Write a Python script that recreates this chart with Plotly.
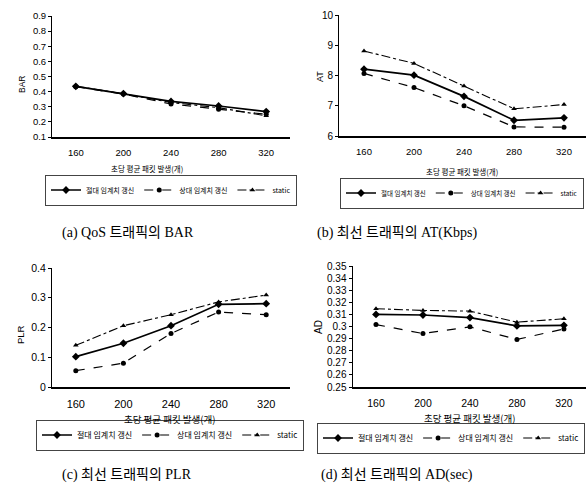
import plotly.graph_objects as go

W, H = 586, 493

x_labels = ["160", "200", "240", "280", "320"]
series_names = ["절대 임계치 갱신", "상대 임계치 갱신", "static"]

bar_abs = [0.435, 0.387, 0.335, 0.305, 0.268]
bar_rel = [0.433, 0.384, 0.318, 0.284, 0.250]
bar_static = [0.436, 0.386, 0.328, 0.294, 0.240]

at_abs = [8.21, 8.01, 7.31, 6.52, 6.60]
at_rel = [8.07, 7.60, 7.00, 6.30, 6.29]
at_static = [8.81, 8.40, 7.65, 6.90, 7.04]

plr_abs = [0.102, 0.147, 0.206, 0.278, 0.280]
plr_rel = [0.055, 0.080, 0.180, 0.252, 0.243]
plr_static = [0.140, 0.206, 0.243, 0.286, 0.309]

ad_abs = [0.310, 0.3095, 0.3074, 0.3005, 0.301]
ad_rel = [0.3016, 0.2942, 0.2997, 0.2893, 0.298]
ad_static = [0.3147, 0.3133, 0.3127, 0.3036, 0.3064]

captions = ["(a) QoS 트래픽의 BAR", "(b) 최선 트래픽의 AT(Kbps)",
            "(c) 최선 트래픽의 PLR", "(d) 최선 트래픽의 AD(sec)"]
y_titles = ["BAR", "AT", "PLR", "AD"]
x_title = "초당 평균 패킷 발생(개)"

bar_ticks = [0.1, 0.2, 0.3, 0.4, 0.5, 0.6, 0.7, 0.8, 0.9]
at_ticks = [6, 7, 8, 9, 10]
plr_ticks = [0, 0.1, 0.2, 0.3, 0.4]
ad_ticks = [0.25, 0.26, 0.27, 0.28, 0.29, 0.30, 0.31, 0.32, 0.33, 0.34, 0.35]


def px_x(p):
    return p / W


def px_y(p):
    return 1 - p / H


panels = [
    dict(data=[bar_abs, bar_rel, bar_static], xd=[52, 290], yd=[16, 137], xr=[-0.5, 4.5],
         yr=[0.1, 0.9], ticks=bar_ticks, tickfs=9.5, xtickfs=9.5,
         leg=dict(x=171, y=190, fs=7, xa="center"), xt=dict(x=147, y=168, fs=7.5),
         yt=dict(x=22, y=85, fs=8.5)),
    dict(data=[at_abs, at_rel, at_static], xd=[339, 586], yd=[15, 136], xr=[-0.5, 4.44],
         yr=[6, 10], ticks=at_ticks, tickfs=10, xtickfs=9.5,
         leg=dict(x=462, y=193, fs=6.5, xa="center"), xt=dict(x=462, y=172, fs=7.5),
         yt=dict(x=320, y=77, fs=9)),
    dict(data=[plr_abs, plr_rel, plr_static], xd=[52, 290], yd=[268, 387], xr=[-0.5, 4.5],
         yr=[0, 0.4], ticks=plr_ticks, tickfs=10.5, xtickfs=11,
         leg=dict(x=170, y=435, fs=8, xa="center"), xt=dict(x=169, y=419, fs=9.5),
         yt=dict(x=20, y=335, fs=9.5)),
    dict(data=[ad_abs, ad_rel, ad_static], xd=[352.5, 586], yd=[266, 387], xr=[-0.5, 4.47],
         yr=[0.25, 0.35], ticks=ad_ticks, tickfs=10, xtickfs=10.5,
         leg=dict(x=585, y=438, fs=8, xa="right"), xt=dict(x=469, y=418, fs=9.5),
         yt=dict(x=318, y=327, fs=10)),
]

styles = [
    dict(dash="solid", width=1.7, symbol="diamond", size=6),
    dict(dash="dash", width=1.2, symbol="circle", size=5),
    dict(dash="dashdot", width=1.1, symbol="triangle-up", size=5),
]

KFONT = "Noto Sans CJK KR"
NFONT = "Liberation Sans, Arial, sans-serif"

fig = go.Figure()
layout = dict(width=W, height=H, margin=dict(l=0, r=0, t=0, b=0, autoexpand=False),
              paper_bgcolor="white", plot_bgcolor="white", showlegend=True)
annotations = []

for i, p in enumerate(panels):
    n = "" if i == 0 else str(i + 1)
    legname = "legend" if i == 0 else f"legend{i + 1}"
    for s, (vals, st) in enumerate(zip(p["data"], styles)):
        fig.add_trace(go.Scatter(
            x=x_labels, y=vals, name=series_names[s], mode="lines+markers",
            line=dict(color="black", width=st["width"], dash=st["dash"]),
            marker=dict(color="black", symbol=st["symbol"], size=st["size"]),
            xaxis=f"x{n}", yaxis=f"y{n}", legend=legname))
    layout[f"xaxis{n}"] = dict(
        domain=[px_x(p["xd"][0]), px_x(p["xd"][1])], anchor=f"y{n}",
        type="category", range=p["xr"], showline=True, linecolor="black", linewidth=1.5,
        showgrid=False, zeroline=False, ticks="", ticklabelstandoff=6,
        tickfont=dict(family=NFONT, size=p["xtickfs"], color="black"))
    layout[f"yaxis{n}"] = dict(
        domain=[px_y(p["yd"][1]), px_y(p["yd"][0])], anchor=f"x{n}",
        range=p["yr"], tickvals=p["ticks"], ticktext=["{:g}".format(t) for t in p["ticks"]],
        showline=True, linecolor="black", linewidth=1, showgrid=False, zeroline=False,
        ticks="outside", ticklen=3, tickcolor="black",
        tickfont=dict(family=NFONT, size=p["tickfs"], color="black"))
    layout[legname] = dict(
        x=px_x(p["leg"]["x"]), y=px_y(p["leg"]["y"]), xanchor=p["leg"]["xa"], yanchor="middle",
        orientation="h", itemwidth=30, bgcolor="rgba(0,0,0,0)",
        bordercolor="#444", borderwidth=1, tracegroupgap=0,
        font=dict(family=KFONT, size=p["leg"]["fs"], color="black"))
    annotations.append(dict(
        text=x_title, x=px_x(p["xt"]["x"]), y=px_y(p["xt"]["y"]), xref="paper", yref="paper",
        showarrow=False, xanchor="center", yanchor="middle",
        font=dict(family=KFONT, size=p["xt"]["fs"], color="black")))
    annotations.append(dict(
        text=y_titles[i], x=px_x(p["yt"]["x"]), y=px_y(p["yt"]["y"]), xref="paper", yref="paper",
        showarrow=False, xanchor="center", yanchor="middle", textangle=-90,
        font=dict(family=NFONT, size=p["yt"]["fs"], color="black")))

cap_pos = [(128, 233), (397, 233), (127, 475), (397, 475)]
for c, (cx, cy) in zip(captions, cap_pos):
    annotations.append(dict(
        text=c, x=px_x(cx), y=px_y(cy), xref="paper", yref="paper", showarrow=False,
        xanchor="center", yanchor="middle",
        font=dict(family="Liberation Serif, Noto Sans CJK KR, serif", size=14, color="black")))

layout["annotations"] = annotations
fig.update_layout(**layout)
fig.write_html("out.html", config={"displayModeBar": False},
               post_script="document.body.style.margin='0';document.body.style.overflow='hidden';")
